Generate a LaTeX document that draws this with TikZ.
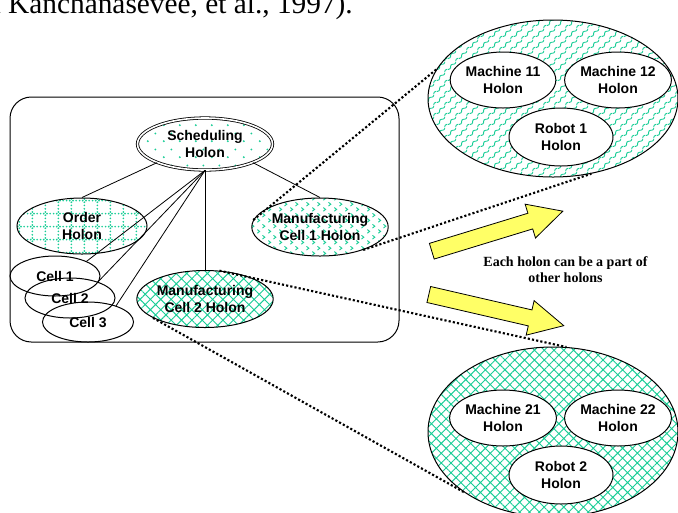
\documentclass[tikz,border=0pt]{standalone}
\usepackage{fontspec}
\newfontfamily\holonsans{Liberation Sans}
\newfontfamily\holonserif{Liberation Serif}
\usetikzlibrary{shapes.geometric, patterns.meta}

\definecolor{hatchgreen}{RGB}{25,205,150}
\definecolor{arrowyellow}{RGB}{255,255,102}

\tikzdeclarepattern{
  name=schedDots, type=uncolored,
  bounding box={(0pt,0pt) and (12pt,12pt)},
  tile size={(12pt,12pt)},
  code={
    \fill (3pt,3pt) circle (0.85pt);
    \fill (9pt,9pt) circle (0.85pt);
  }
}
\tikzdeclarepattern{
  name=dotGrid, type=uncolored,
  bounding box={(0pt,0pt) and (10pt,10pt)},
  tile size={(10pt,10pt)},
  code={
    \foreach \k in {1.25,3.75,6.25,8.75} {
      \fill (\k pt,5pt) circle (0.75pt);
      \fill (5pt,\k pt) circle (0.75pt);
    }
  }
}
\tikzdeclarepattern{
  name=chevrons, type=uncolored,
  bounding box={(0pt,0pt) and (8pt,8pt)},
  tile size={(8pt,8pt)},
  code={
    \draw[line width=0.7pt] (1pt,3.4pt) -- (2.8pt,2pt) -- (1pt,0.6pt);
    \draw[line width=0.7pt] (5pt,7.4pt) -- (6.8pt,6pt) -- (5pt,4.6pt);
  }
}
\tikzdeclarepattern{
  name=wavyStairs, type=uncolored,
  bounding box={(0pt,0pt) and (8pt,8pt)},
  tile size={(8pt,8pt)},
  code={
    \draw[line width=0.7pt, rounded corners=1.6pt]
      (0pt,2pt) -- (2pt,2pt) -- (2pt,6pt) -- (6pt,6pt) -- (6pt,8pt);
    \draw[line width=0.7pt, rounded corners=1.6pt]
      (6pt,0pt) -- (6pt,2pt) -- (8pt,2pt);
  }
}

\begin{document}
\begin{tikzpicture}[x=0.75pt, y=-0.75pt,
    holon/.style={ellipse, draw, line width=0.75pt, inner sep=0pt, align=center,
        font=\holonsans\bfseries\fontsize{10.5}{12.5}\selectfont},
    green/.style={pattern color=hatchgreen},
    link/.style={line width=0.6pt},
    dotlink/.style={line width=1.6pt, dash pattern=on 1.6pt off 1.6pt},
    bigarrow/.style={draw, fill=arrowyellow, line width=0.6pt, line join=miter}
]
\useasboundingbox (0,0) rectangle (678,512);

\node[anchor=base east, inner sep=0pt, font=\holonserif\fontsize{22}{26}\selectfont] (cite) at (353,13) {from Kanchanasevee, et al., 1997).};

% left frame
\draw[line width=0.75pt, rounded corners=16pt] (10,97) rectangle (399,342);

\node[holon, green, pattern=schedDots, double, double distance=1.2pt, line width=0.6pt,
      minimum width=101.25pt, minimum height=39pt] (sched) at (205,144) {Scheduling\\Holon};
\node[holon, green, pattern=dotGrid, minimum width=97.5pt, minimum height=42pt] (order) at (82,226) {Order\\Holon};
\node[holon, green, pattern=chevrons, minimum width=98.25pt, minimum height=43.5pt] (mfg1) at (320,227) {Manufacturing\\Cell 1 Holon};
\node[holon, green, pattern={Hatch[angle=45,distance=5.5pt,line width=0.7pt]},
      minimum width=97.5pt, minimum height=42.75pt] (mfg2) at (205,299) {Manufacturing\\Cell 2 Holon};

\node[holon, minimum width=67.5pt, minimum height=30pt] (cell1) at (55,276) {Cell 1};
\node[holon, minimum width=67.5pt, minimum height=30pt] (cell2) at (70,298) {Cell 2};
\node[holon, minimum width=68.25pt, minimum height=30pt] (cell3) at (88,322) {Cell 3};

\draw[link] (sched.south west) -- (order.north);
\draw[link] (sched.south east) -- (mfg1.north);
\draw[link] (sched.south) -- (mfg2.north);
\draw[link] (sched.south) -- (cell1.25);
\draw[link] (sched.south) -- (cell2.30);
\draw[link] (sched.south) -- (cell3.30);

% holons inside holons
\node[holon, green, pattern=wavyStairs, minimum width=187.5pt, minimum height=117.75pt] (big1) at (553,98.5) {};
\node[holon, fill=white, minimum width=78pt, minimum height=42pt] (m11) at (503,80) {Machine 11\\Holon};
\node[holon, fill=white, minimum width=78pt, minimum height=42pt] (m12) at (618,80) {Machine 12\\Holon};
\node[holon, fill=white, minimum width=78pt, minimum height=43.5pt] (r1) at (561,137) {Robot 1\\Holon};

\node[holon, green, pattern={Hatch[angle=45,distance=5.2pt,line width=0.7pt]},
      minimum width=187.5pt, minimum height=127.5pt] (big2) at (553,432) {};
\node[holon, fill=white, minimum width=78pt, minimum height=42pt] (m21) at (503,418) {Machine 21\\Holon};
\node[holon, fill=white, minimum width=78pt, minimum height=42pt] (m22) at (618,418) {Machine 22\\Holon};
\node[holon, fill=white, minimum width=78pt, minimum height=43.5pt] (r2) at (561,475) {Robot 2\\Holon};

\draw[dotlink] (mfg1.174) -- (big1.166);
\draw[dotlink] (mfg1.-28) -- (big1.-63);
\draw[dotlink] (mfg2.63) -- (big2.81);
\draw[dotlink] (mfg2.200) -- (big2.214);

% yellow arrows
\begin{scope}[shift={(431.8,251.2)}, rotate=17]
  \draw[bigarrow] (0,-8.2) -- (103,-8.2) -- (103,-17.7) -- (137,0) -- (103,17.7) -- (103,8.2) -- (0,8.2) -- cycle;
\end{scope}
\begin{scope}[shift={(428.8,294.5)}, rotate=-13]
  \draw[bigarrow] (0,-8.2) -- (104,-8.2) -- (104,-17.7) -- (138.5,0) -- (104,17.7) -- (104,8.2) -- (0,8.2) -- cycle;
\end{scope}

\node[align=center, font=\holonserif\bfseries\fontsize{10.5}{12.5}\selectfont] (note) at (565.5,269.5)
  {Each holon can be a part of\\other holons};
\end{tikzpicture}
\end{document}
